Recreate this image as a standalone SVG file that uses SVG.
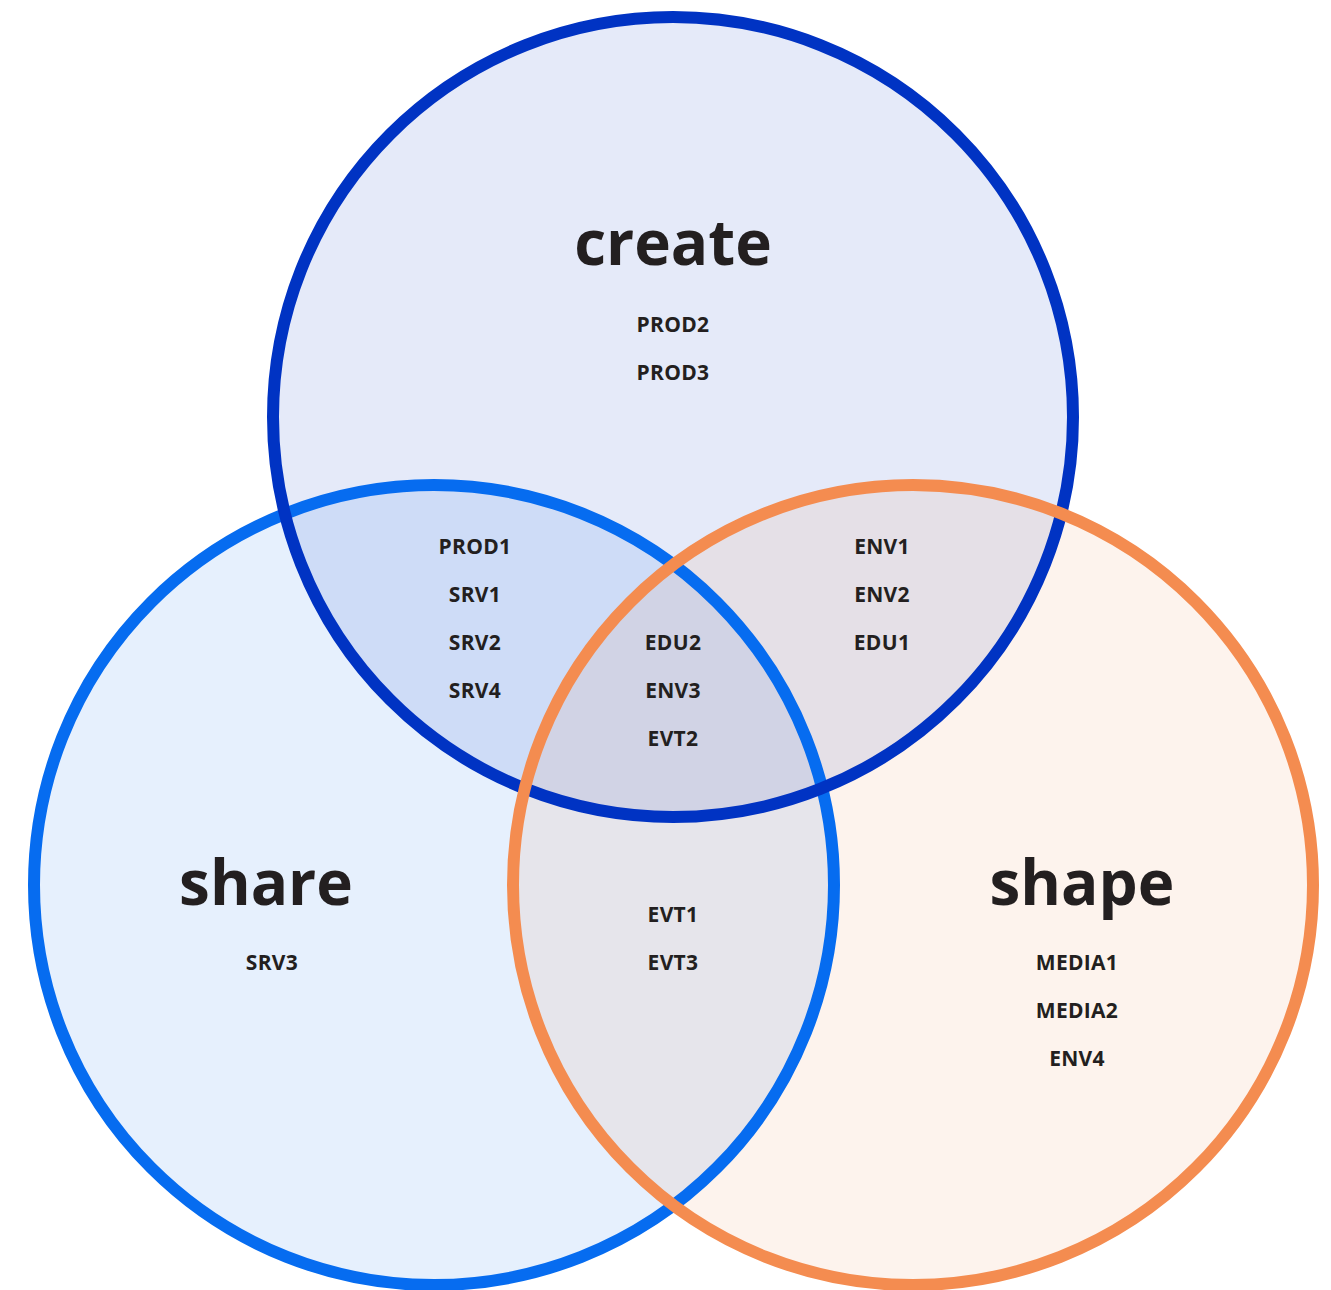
<svg xmlns="http://www.w3.org/2000/svg" width="1331" height="1290" viewBox="0 0 1331 1290">
<style>
.f{stroke:none;fill-opacity:0.1}
.s{fill:none;stroke-width:12}
.t{font-family:"Open Sans","Noto Sans",sans-serif;font-weight:700;fill:#231f20;text-anchor:middle}
.h{font-size:62px}
.l{font-size:21px;letter-spacing:0.3px}
</style>
<rect width="1331" height="1290" fill="#ffffff"/>
<g id="fills">
<circle class="f" cx="434" cy="885" r="400" fill="#0a6cf0"/>
<circle class="f" cx="673" cy="417" r="400" fill="#0033c0"/>
<circle class="f" cx="913" cy="885" r="400" fill="#f08c50"/>
</g>
<g id="share">
<circle class="s" cx="434" cy="885" r="400" stroke="#066cf0"/>
</g>
<g id="create">
<circle class="s" cx="673" cy="417" r="400" stroke="#0033c3"/>
</g>
<g id="shape">
<circle class="s" cx="913" cy="885" r="400" stroke="#f48c50"/>
</g>
<g id="labels">
<text class="t h" x="673" y="265">create</text>
<text class="t l" x="673" y="332">PROD2</text>
<text class="t l" x="673" y="380">PROD3</text>
<text class="t l" x="475" y="554">PROD1</text>
<text class="t l" x="475" y="602">SRV1</text>
<text class="t l" x="475" y="650">SRV2</text>
<text class="t l" x="475" y="698">SRV4</text>
<text class="t l" x="673" y="650">EDU2</text>
<text class="t l" x="673" y="698">ENV3</text>
<text class="t l" x="673" y="746">EVT2</text>
<text class="t l" x="882" y="554">ENV1</text>
<text class="t l" x="882" y="602">ENV2</text>
<text class="t l" x="882" y="650">EDU1</text>
<text class="t l" x="673" y="922">EVT1</text>
<text class="t l" x="673" y="970">EVT3</text>
<text class="t h" x="266" y="905">share</text>
<text class="t l" x="272" y="970">SRV3</text>
<text class="t h" x="1082" y="905">shape</text>
<text class="t l" x="1077" y="970">MEDIA1</text>
<text class="t l" x="1077" y="1018">MEDIA2</text>
<text class="t l" x="1077" y="1066">ENV4</text>
</g>
</svg>
